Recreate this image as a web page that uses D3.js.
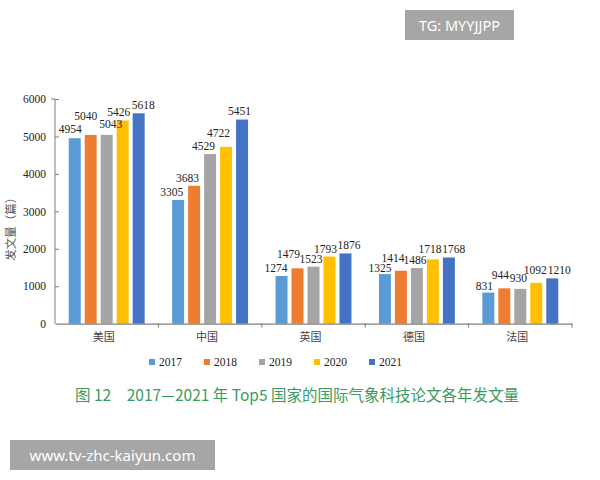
<!DOCTYPE html>
<html>
<head>
<meta charset="utf-8">
<script src="https://cdn.jsdelivr.net/npm/d3@7"></script>
<style>
  html, body { margin: 0; padding: 0; background: #fff; }
  svg { display: block; }
</style>
</head>
<body>
<svg id="chart" width="600" height="480"></svg>
<script>
// ---- data ----
const countries = ["美国", "中国", "英国", "德国", "法国"];
const years = ["2017", "2018", "2019", "2020", "2021"];
const v2017 = [4954, 3305, 1274, 1325, 831];
const v2018 = [5040, 3683, 1479, 1414, 944];
const v2019 = [5043, 4529, 1523, 1486, 930];
const v2020 = [5426, 4722, 1793, 1718, 1092];
const v2021 = [5618, 5451, 1876, 1768, 1210];
const yTicks = [0, 1000, 2000, 3000, 4000, 5000, 6000];
const yTitle = "发文量（篇）";
const caption = "图 12　2017—2021 年 Top5 国家的国际气象科技论文各年发文量";

const seriesValues = [v2017, v2018, v2019, v2020, v2021];
const colors = ["#5b9bd5", "#ed7d31", "#a5a5a5", "#ffc000", "#4472c4"];

// value-label nudges [dx, gap above bar] per country, per year (layout only)
const labelNudge = {
  "美国": [[-4.5, 5], [-5, 15], [4, 7], [-4, 4.5], [4.5, 4]],
  "中国": [[-6.5, 4], [-6.5, 4], [-6.5, 4], [-7.5, 9.5], [-2.5, 5]],
  "英国": [[-5.5, 4], [-9, 10], [-2.5, 3.5], [-4, 4], [3.5, 4]],
  "德国": [[-5, 2.5], [-8, 9], [-2, 4], [-3, 6], [5, 4]],
  "法国": [[-4, 3], [-4, 9], [-2, 7], [-1, 9], [7, 4]]
};

const rows = [];
countries.forEach((c, i) => {
  years.forEach((yr, j) => rows.push({ country: c, year: yr, value: seriesValues[j][i], si: j }));
});

const svg = d3.select("#chart");
const plotL = 55, plotR = 572, plotT = 99, plotB = 323.7;

const x0 = d3.scaleBand().domain(countries).range([plotL, plotR]).paddingInner(0).paddingOuter(0);
const x1 = d3.scaleBand().domain(years).range([0, x0.bandwidth()]).paddingInner(0.25).paddingOuter(0.86);
const y = d3.scaleLinear().domain([0, 6000]).range([plotB, plotT]);
const color = d3.scaleOrdinal().domain(years).range(colors);

const serif = "'Liberation Serif', 'Times New Roman', serif";
const cjk = "'Noto Sans CJK SC', sans-serif";
const axisColor = "#7f7f7f";

// bars
svg.append("g").selectAll("rect").data(rows).join("rect")
  .attr("x", d => x0(d.country) + x1(d.year))
  .attr("y", d => y(d.value))
  .attr("width", x1.bandwidth())
  .attr("height", d => y(0) - y(d.value))
  .attr("fill", d => color(d.year));

// value labels
svg.append("g").selectAll("text").data(rows).join("text")
  .attr("x", d => x0(d.country) + x1(d.year) + x1.bandwidth() / 2 + labelNudge[d.country][d.si][0])
  .attr("y", d => y(d.value) - labelNudge[d.country][d.si][1])
  .attr("text-anchor", "middle")
  .style("font-family", serif)
  .attr("font-size", 11.5)
  .attr("fill", "#222")
  .text(d => d.value);

// y axis
const yAxis = d3.axisLeft(y).tickValues(yTicks).tickSize(-4).tickPadding(9).tickFormat(d3.format("d"));
const gy = svg.append("g").attr("transform", `translate(${plotL},0)`).call(yAxis);
gy.select(".domain").attr("stroke", axisColor).attr("d", `M-4,${plotT}H0V${plotB}`);
gy.selectAll(".tick line").attr("stroke", axisColor);
gy.selectAll(".tick text").style("font-family", serif).attr("font-size", 11.5).attr("fill", "#222");
gy.selectAll(".tick").filter(d => d === 0).select("line").remove();

// x axis
const gx = svg.append("g").attr("transform", `translate(0,${plotB})`)
  .call(d3.axisBottom(x0).tickSize(0).tickPadding(10));
gx.select(".domain").attr("stroke", axisColor).attr("stroke-width", 1.2);
gx.selectAll(".tick text").style("font-family", cjk).attr("font-size", 11).attr("fill", "#444").attr("dx", -3);
// category separators
const seps = countries.map(c => x0(c) + x0.bandwidth());
gx.selectAll("line.sep").data(seps).join("line").attr("class", "sep")
  .attr("x1", d => d).attr("x2", d => d).attr("y1", 0).attr("y2", 4)
  .attr("stroke", axisColor);

// y title
svg.append("text")
  .attr("transform", `translate(15,${(plotT + plotB) / 2 + 15}) rotate(-90)`)
  .attr("text-anchor", "middle")
  .style("font-family", cjk)
  .attr("font-size", 11.5)
  .attr("fill", "#555")
  .text(yTitle);

// legend
const legendX = d3.scalePoint().domain(years).range([149, 369]);
const lg = svg.append("g").selectAll("g").data(years).join("g")
  .attr("transform", d => `translate(${legendX(d)},362)`);
lg.append("rect").attr("x", 0).attr("y", -3).attr("width", 6).attr("height", 6).attr("fill", d => color(d));
lg.append("text").attr("x", 10).attr("y", 4)
  .style("font-family", serif).attr("font-size", 11.5).attr("fill", "#222").text(d => d);

// caption
svg.append("text")
  .attr("x", 75).attr("y", 401)
  .style("font-family", cjk)
  .attr("font-size", 15.5)
  .attr("fill", "#3b9a5e")
  .text(caption);

// watermark boxes
svg.append("rect").attr("x", 405).attr("y", 10).attr("width", 109).attr("height", 30).attr("fill", "#a6a6a6");
svg.append("text").attr("x", 459.5).attr("y", 30.5).attr("text-anchor", "middle")
  .style("font-family", "'Noto Sans', sans-serif").attr("font-size", 14.5).attr("fill", "#fff").text("TG: MYYJJPP");
svg.append("rect").attr("x", 10).attr("y", 440).attr("width", 205).attr("height", 30).attr("fill", "#a6a6a6");
svg.append("text").attr("x", 112.5).attr("y", 460.5).attr("text-anchor", "middle")
  .style("font-family", "'Noto Sans', sans-serif").attr("font-size", 15).attr("fill", "#fff").text("www.tv-zhc-kaiyun.com");
</script>
</body>
</html>
